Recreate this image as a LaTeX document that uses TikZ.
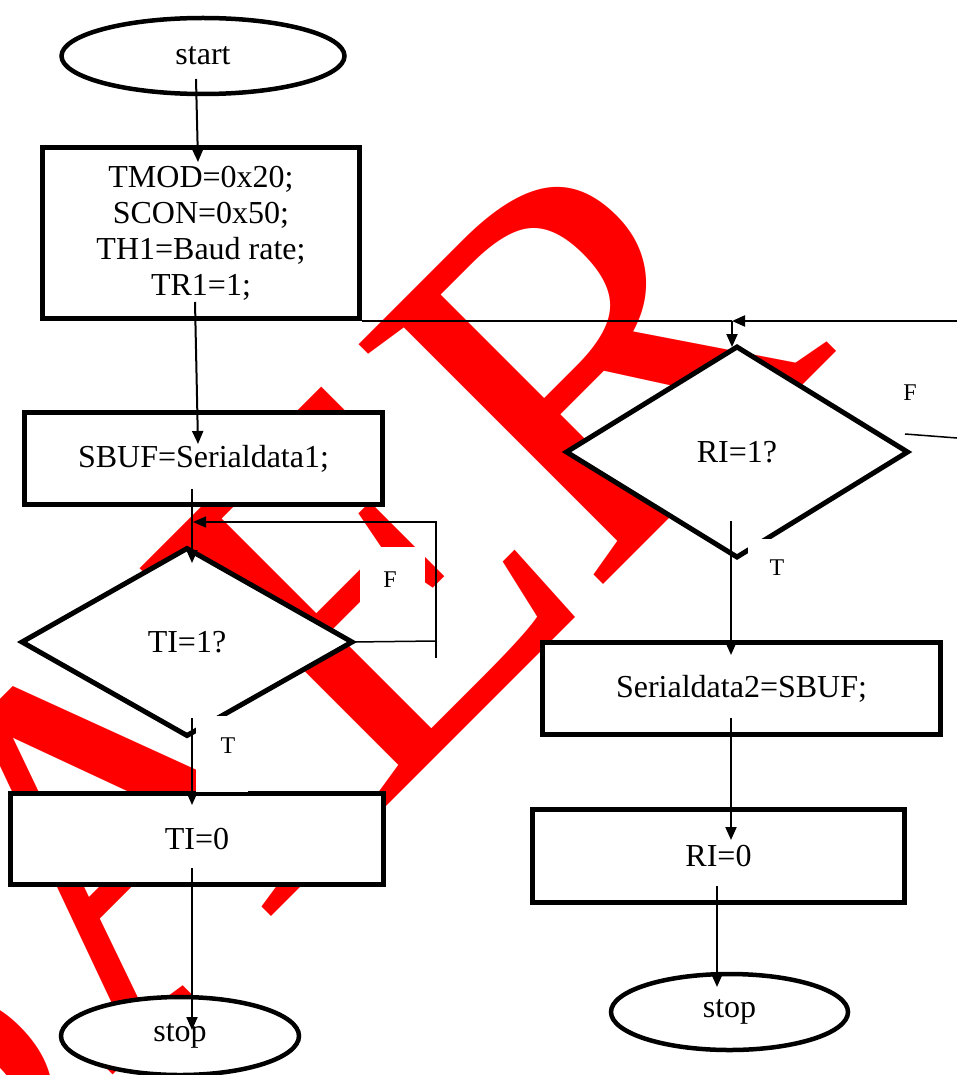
\documentclass[tikz,border=0pt]{standalone}
\usepackage{fontspec}
\setmainfont{Liberation Serif}
\usetikzlibrary{shapes.geometric,arrows.meta}
\begin{document}
\begin{tikzpicture}[x=1pt,y=-1pt,
  every node/.style={inner sep=0pt, outer sep=0pt},
  wm/.style={text=red, rotate=45, anchor=base west,
    font=\fontsize{523}{523}\selectfont},
  txt/.style={font=\fontsize{32}{36}\selectfont, align=center},
  small/.style={font=\fontsize{24}{24}\selectfont},
  term/.style={ellipse, draw, line width=4.5pt, fill=white, txt},
  proc/.style={rectangle, draw, line width=5pt, fill=white, txt},
  decide/.style={diamond, draw, line width=5pt, fill=white, txt},
  conn/.style={line width=2pt, -{Triangle[length=13pt,width=11pt]}},
  thin/.style={line width=1.5pt},
  patch/.style={fill=white}
]
% page
\fill[white] (0,0) rectangle (957,1075);
\useasboundingbox (0,0) rectangle (957,1075);

% red lettering behind the chart
\node[wm] (wmS) at (-92,1279) {S};
\node[wm] (wmA) at (109,1078) {A};
\node[wm] (wmE) at (371,821) {E};
\node[wm] (wmR) at (590,597) {R};

% left column
\node[term, minimum width=283pt, minimum height=76pt] (start) at (203,56) {start};
\node[proc, minimum width=317pt, minimum height=171pt] (init) at (201,233)
  {TMOD=0x20;\\SCON=0x50;\\TH1=Baud rate;\\TR1=1;};
\node[proc, minimum width=358pt, minimum height=92pt] (send) at (203.5,458.5) {SBUF=Serialdata1;};
\node[decide, minimum width=330pt, minimum height=187pt] (ti) at (187,642) {TI=1?};
\node[proc, minimum width=373pt, minimum height=91pt] (ticlr) at (197,839) {TI=0};
\node[term, minimum width=238pt, minimum height=78pt] (stopL) at (180,1036) {stop};

% right column
\node[decide, minimum width=341pt, minimum height=210pt] (ri) at (737,452) {RI=1?};
\node[proc, minimum width=398pt, minimum height=92pt] (recv) at (741.5,688.5) {Serialdata2=SBUF;};
\node[proc, minimum width=372pt, minimum height=93pt] (riclr) at (718.5,856) {RI=0};
\node[term, minimum width=237pt, minimum height=76pt] (stopR) at (729.5,1012) {stop};

% white backgrounds of the branch labels
\fill[patch] (360,547) rectangle (425,637);
\fill[patch] (196,716) rectangle (248,792.3);
\fill[patch] (748,539) rectangle (800,600);

% connector end points
\coordinate (c1) at (196,79);   \coordinate (c2) at (198,162);
\coordinate (c3) at (195,302);  \coordinate (c4) at (198,444);
\coordinate (c5) at (192,489);  \coordinate (c6) at (192,563);
\coordinate (c7) at (192,718);  \coordinate (c8) at (192,805);
\coordinate (c9) at (192,868);  \coordinate (c10) at (192,1030);
\coordinate (l1) at (436,641);  \coordinate (l2) at (436,658);
\coordinate (l3) at (436,522);  \coordinate (l4) at (193,522);
\coordinate (r0) at (362,321);  \coordinate (r1) at (732,321);
\coordinate (r2) at (732,347);  \coordinate (r3) at (957,321);
\coordinate (r4) at (905,434);  \coordinate (r5) at (957,438);
\coordinate (d1) at (731,521);  \coordinate (d2) at (731,655);
\coordinate (d3) at (731,718);  \coordinate (d4) at (731,840);
\coordinate (d5) at (717,886);  \coordinate (d6) at (717,987);

% left flow
\draw[conn] (c1) -- (c2);
\draw[conn] (c3) -- (c4);
\draw[conn] (c5) -- (c6);
\draw[conn] (c7) -- (c8);
\draw[conn] (c9) -- (c10);
% TI false loop
\draw[thin] (ti.east) -- (l1);
\draw[thin, -{Triangle[length=13pt,width=11pt]}] (l2) -- (l3) -- (l4);

% path into the receive side
\draw[line width=2pt] (r0) -- (r1);
\draw[conn] (r1) -- (r2);
\draw[line width=2pt, -{Triangle[length=13pt,width=11pt]}] (r3) -- (r1);
\draw[thin] (r4) -- (r5);

% right flow
\draw[conn] (d1) -- (d2);
\draw[conn] (d3) -- (d4);
\draw[conn] (d5) -- (d6);

% branch labels
\node[small] (fT) at (390,580) {F};
\node[small] (tT) at (228,746) {T};
\node[small] (fR) at (910,393) {F};
\node[small] (tR) at (777,568) {T};
\end{tikzpicture}
\end{document}
